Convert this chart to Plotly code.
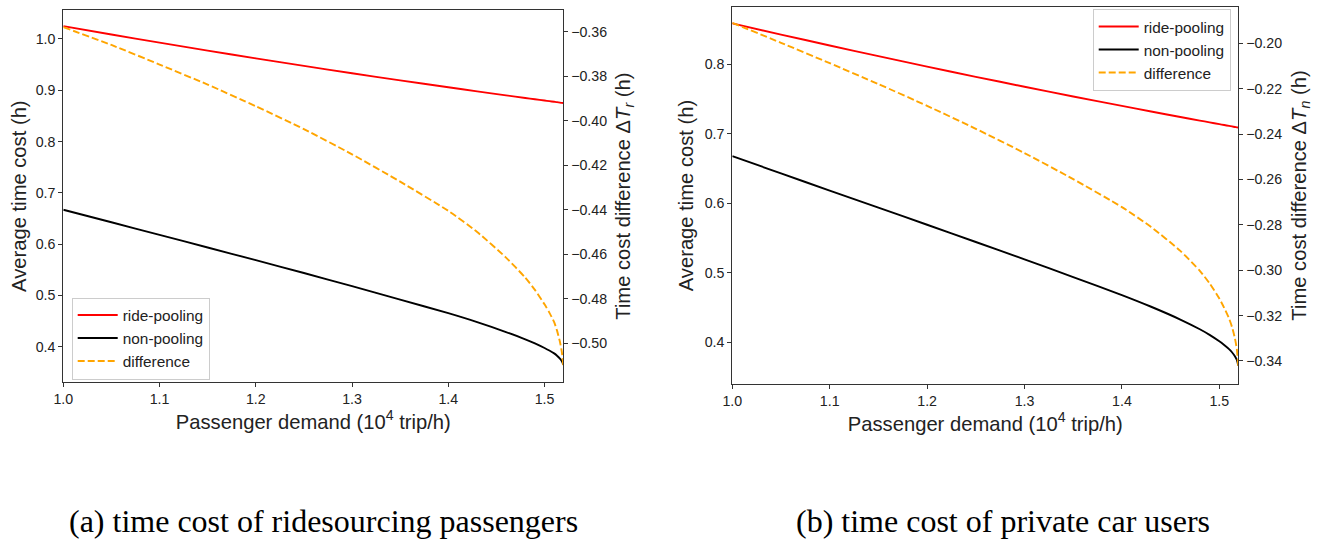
import plotly.graph_objects as go

# Passenger demand (10^4 trip/h)
demand = [1.00, 1.05, 1.10, 1.15, 1.20, 1.25, 1.30, 1.35, 1.40, 1.43,
          1.46, 1.48, 1.49, 1.50, 1.505, 1.51, 1.513, 1.516, 1.518, 1.5195]

# (a) ridesourcing passengers: average time cost (h) and difference (h)
ride_pool_a = [1.025, 1.0087, 0.9928, 0.9773, 0.9622, 0.9475, 0.9332, 0.9193, 0.9058, 0.8979,
               0.8901, 0.8850, 0.8825, 0.8800, 0.8788, 0.8775, 0.8768, 0.8760, 0.8755, 0.8752]
non_pool_a = [0.667, 0.6427, 0.618, 0.5935, 0.5687, 0.5437, 0.5181, 0.4919, 0.4653, 0.4479,
              0.4286, 0.4145, 0.4065, 0.3975, 0.3926, 0.3870, 0.3825, 0.3767, 0.3715, 0.3652]
diff_a = [-0.358, -0.366, -0.3748, -0.3838, -0.3935, -0.4038, -0.4151, -0.4274, -0.4405, -0.450,
          -0.4615, -0.4705, -0.476, -0.4825, -0.4862, -0.4905, -0.4943, -0.4993, -0.504, -0.510]

# (b) private car users: average time cost (h) and difference (h)
ride_pool_b = [0.859, 0.8429, 0.8272, 0.8118, 0.7968, 0.7821, 0.7678, 0.7538, 0.7402, 0.7322,
               0.7243, 0.7191, 0.7166, 0.7140, 0.7127, 0.7115, 0.7107, 0.7099, 0.7094, 0.7091]
non_pool_b = [0.668, 0.6431, 0.6184, 0.5938, 0.5692, 0.5444, 0.5194, 0.4939, 0.468, 0.4512,
              0.4328, 0.4188, 0.4108, 0.4015, 0.3961, 0.3902, 0.3857, 0.3799, 0.3746, 0.3666]
diff_b = [-0.191, -0.1998, -0.2088, -0.218, -0.2276, -0.2377, -0.2484, -0.2599, -0.2722, -0.281,
          -0.2915, -0.3003, -0.3058, -0.3125, -0.3166, -0.3213, -0.325, -0.330, -0.3348, -0.3425]

x_ticks = [1.0, 1.1, 1.2, 1.3, 1.4, 1.5]
y_ticks_a = [0.4, 0.5, 0.6, 0.7, 0.8, 0.9, 1.0]
y2_ticks_a = [-0.50, -0.48, -0.46, -0.44, -0.42, -0.40, -0.38, -0.36]
y_ticks_b = [0.4, 0.5, 0.6, 0.7, 0.8]
y2_ticks_b = [-0.34, -0.32, -0.30, -0.28, -0.26, -0.24, -0.22, -0.20]

captions = ["(a) time cost of ridesourcing passengers", "(b) time cost of private car users"]

W, H = 1324, 539
FONT = "Liberation Sans, Arial, sans-serif"
INK = "#222222"
SPINE = "#333333"


def px(v, total):
    return v / total


fig = go.Figure()

panels = [
    dict(x="x", y="y", y2="y2", legend="legend",
         rp=ride_pool_a, npl=non_pool_a, df=diff_a),
    dict(x="x2", y="y3", y2="y4", legend="legend2",
         rp=ride_pool_b, npl=non_pool_b, df=diff_b),
]

for p in panels:
    fig.add_trace(go.Scatter(x=demand, y=p["rp"], mode="lines", name="ride-pooling",
                             line=dict(color="#ff0000", width=1.9, shape="spline", smoothing=0.6),
                             xaxis=p["x"], yaxis=p["y"], legend=p["legend"],
                             legendgroup=p["legend"] + "rp"))
    fig.add_trace(go.Scatter(x=demand, y=p["npl"], mode="lines", name="non-pooling",
                             line=dict(color="#000000", width=1.9, shape="spline", smoothing=0.6),
                             xaxis=p["x"], yaxis=p["y"], legend=p["legend"],
                             legendgroup=p["legend"] + "np"))
    fig.add_trace(go.Scatter(x=demand, y=p["df"], mode="lines", name="difference",
                             line=dict(color="#FFA500", width=1.9, dash="7px,3px",
                                       shape="spline", smoothing=0.6),
                             xaxis=p["x"], yaxis=p["y2"], legend=p["legend"],
                             legendgroup=p["legend"] + "df"))

axis_common = dict(showline=True, linecolor=SPINE, linewidth=1, ticks="outside",
                   ticklen=4, tickwidth=1, tickcolor=SPINE, showgrid=False, zeroline=False,
                   automargin=False,
                   tickfont=dict(family=FONT, size=14.2, color=INK))
title_font = dict(family=FONT, size=20.2, color=INK)

x_title = "Passenger demand (10<sup>4</sup> trip/h)"
y_title = "Average time cost (h)"

dom_xa = [px(63.3, W), px(563.3, W)]
dom_xb = [px(732.3, W), px(1238.3, W)]
dom_ya = [1 - px(382.3, H), 1 - px(10, H)]
dom_yb = [1 - px(384.3, H), 1 - px(6.7, H)]

legend_common = dict(bgcolor="rgba(255,255,255,0.8)", bordercolor="#cccccc", borderwidth=1,
                     font=dict(family=FONT, size=15.4, color=INK), tracegroupgap=0,
                     traceorder="grouped", itemwidth=40)

fig.update_layout(
    width=W, height=H, margin=dict(l=0, r=0, t=0, b=0),
    paper_bgcolor="white", plot_bgcolor="white",
    font=dict(family=FONT, color=INK),
    xaxis=dict(domain=dom_xa, anchor="y", range=[1.0, 1.5195], tickvals=x_ticks,
               tickformat=".1f", mirror=True,
               title=dict(text=x_title, font=title_font, standoff=4), **axis_common),
    yaxis=dict(domain=dom_ya, anchor="x", range=[0.3306, 1.0565], tickvals=y_ticks_a,
               tickformat=".1f",
               title=dict(text=y_title, font=title_font, standoff=3), **axis_common),
    yaxis2=dict(domain=dom_ya, anchor="x", overlaying="y", side="right",
                range=[-0.5175, -0.3503], tickvals=y2_ticks_a, tickformat=".2f",
                title=dict(text="Time cost difference Δ<i>T</i><sub><i>r</i></sub> (h)",
                           font=title_font, standoff=9), **axis_common),
    xaxis2=dict(domain=dom_xb, anchor="y3", range=[1.0, 1.5195], tickvals=x_ticks,
                tickformat=".1f", mirror=True,
                title=dict(text=x_title, font=title_font, standoff=6), **axis_common),
    yaxis3=dict(domain=dom_yb, anchor="x2", range=[0.3396, 0.883], tickvals=y_ticks_b,
                tickformat=".1f",
                title=dict(text=y_title, font=title_font, standoff=5), **axis_common),
    yaxis4=dict(domain=dom_yb, anchor="x2", overlaying="y3", side="right",
                range=[-0.3503, -0.1839], tickvals=y2_ticks_b, tickformat=".2f",
                title=dict(text="Time cost difference Δ<i>T</i><sub><i>n</i></sub> (h)",
                           font=title_font, standoff=10), **axis_common),
    legend=dict(x=px(71.7, W), y=1 - px(338.5, H), xanchor="left", yanchor="middle",
                **legend_common),
    legend2=dict(x=px(1230.7, W), y=1 - px(50, H), xanchor="right", yanchor="middle",
                 **legend_common),
    showlegend=True,
)

for text, cx in zip(captions, [323, 1003]):
    fig.add_annotation(text=text, xref="paper", yref="paper", x=px(cx, W), y=1 - px(521, H),
                       xanchor="center", yanchor="middle", showarrow=False,
                       font=dict(family="Liberation Serif", size=32, color="#000000"))

fig.write_html("out.html")
